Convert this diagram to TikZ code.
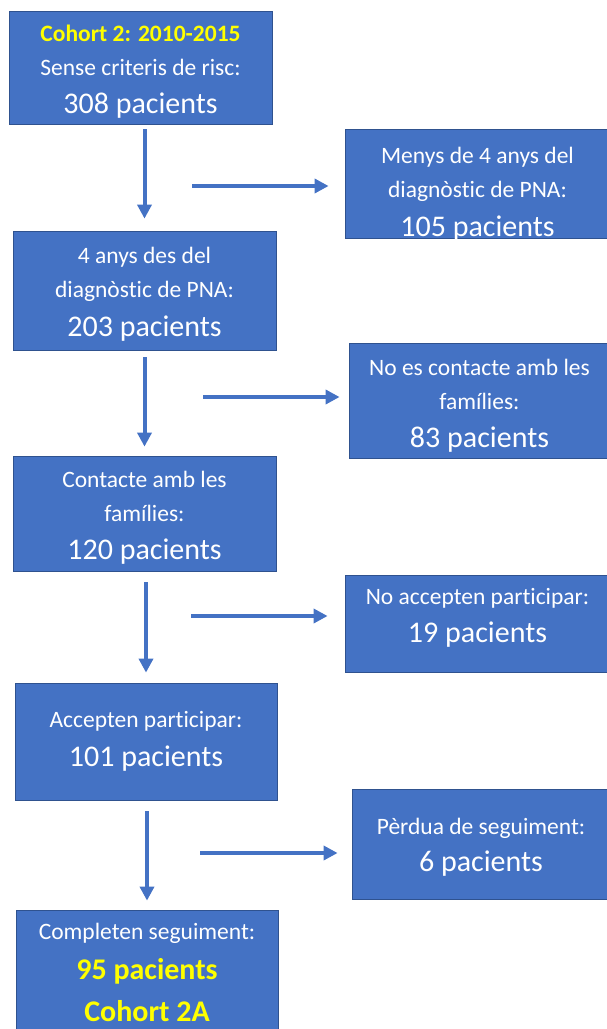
\documentclass[tikz,border=0pt]{standalone}
\usepackage{fontspec}
\setmainfont{Carlito}[Ligatures=CommonOff]
\usetikzlibrary{arrows.meta}

\definecolor{boxblue}{HTML}{4472C4}
\definecolor{boxedge}{HTML}{2F528F}
\definecolor{hiyellow}{HTML}{FFFF00}

\tikzset{
  flowbox/.style={rectangle, draw=boxedge, line width=0.8pt, fill=boxblue, text=white,
    align=center, inner sep=0pt, font=\fontsize{23.5}{34}\selectfont},
  flowarrow/.style={draw=boxblue, line width=4pt, -{Triangle[length=14pt,width=14pt]}},
  % push the text block up inside its box
  textlift/.style={execute at end node={\rule[-#1]{0pt}{#1}}},
}
\newcommand{\bignum}[1]{{\fontsize{30}{34}\selectfont #1}}
% taller first line, pushes the text block down
\newcommand{\dropline}[1]{\rule{0pt}{#1}}

\begin{document}
\begin{tikzpicture}[x=1pt,y=-1pt]
  \clip (0,0) rectangle (607,1029);

  % Main column of boxes
  \node[flowbox, minimum width=263pt, minimum height=113pt] (c1) at (140.5,67.5)
    {\dropline{25pt}{\bfseries\color{hiyellow}Cohort 2: 2010-2015}\\Sense criteris de risc:\\[4pt]\bignum{308 pacients}};
  \node[flowbox, minimum width=263pt, minimum height=119pt] (c2) at (144.5,290.5)
    {\dropline{23pt}4 anys des del\\diagnòstic de PNA:\\[5pt]\bignum{203 pacients}};
  \node[flowbox, minimum width=263pt, minimum height=115pt] (c3) at (144.5,513.5)
    {\dropline{25pt}Contacte amb les\\famílies:\\[4pt]\bignum{120 pacients}};
  \node[flowbox, minimum width=262pt, minimum height=117pt] (c4) at (146,741.5)
    {Accepten participar:\\[5pt]\bignum{101 pacients}};
  \node[flowbox, minimum width=262pt, minimum height=125pt] (c5) at (147,972.5)
    {Completen seguiment:\\[6pt]{\bfseries\color{hiyellow}\bignum{95 pacients}}\\[8pt]{\bfseries\color{hiyellow}\bignum{Cohort 2A}}};

  % Side boxes (patients left out)
  \node[flowbox, minimum width=265pt, minimum height=109pt] (r1) at (477.5,183.5) {};
  \begin{scope}
    \clip (r1.north west) rectangle (r1.south east);
    \node[flowbox, draw=none, fill=none] (r1text) at ([yshift=-11pt]r1.center)
      {Menys de 4 anys del\\diagnòstic de PNA:\\[5pt]\bignum{105 pacients}};
  \end{scope}
  \node[flowbox, minimum width=261pt, minimum height=115pt] (r2) at (479.5,400.5)
    {\dropline{27pt}No es contacte amb les\\famílies:\\[4pt]\bignum{83 pacients}};
  \node[flowbox, textlift=17pt, minimum width=265pt, minimum height=97pt] (r3) at (477.5,623.5)
    {No accepten participar:\\[4pt]\bignum{19 pacients}};
  \node[flowbox, minimum width=258pt, minimum height=110pt] (r4) at (481,844)
    {\dropline{23pt}Pèrdua de seguiment:\\[3pt]\bignum{6 pacients}};

  % Start points of the side arrows
  \coordinate (h1) at (192,186);
  \coordinate (h2) at (203,397);
  \coordinate (h3) at (191,616);
  \coordinate (h4) at (200,853);

  % Down the main column
  \foreach \a/\b/\s/\e in {c1/c2/5/12, c2/c3/7/9, c3/c4/11/10, c4/c5/11/9}
    \draw[flowarrow, shorten <=\s pt, shorten >=\e pt] (\a.south -| \b) -- (\b.north);

  % Across to the side boxes
  \foreach \h/\r/\e in {h1/r1/16, h2/r2/9, h3/r3/17, h4/r4/14}
    \draw[flowarrow, shorten >=\e pt] (\h) -- (\h -| \r.west);
\end{tikzpicture}
\end{document}
